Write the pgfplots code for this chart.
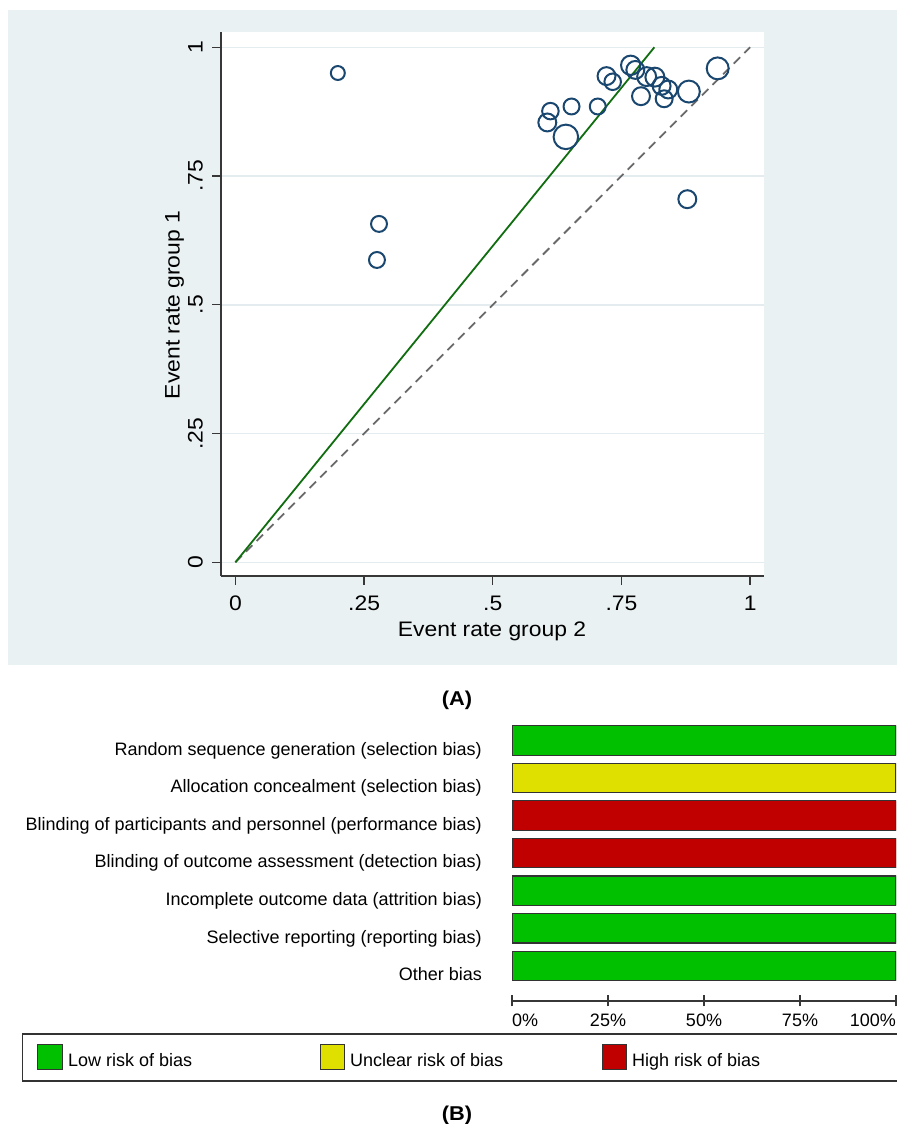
\documentclass[border=0pt]{standalone}
\usepackage{fontspec}
\setmainfont{Liberation Sans}
\newfontfamily\statafont[FakeStretch=1.09]{Liberation Sans}
\usepackage{pgfplots}
\pgfplotsset{compat=1.18}
\usepackage{pgfplotstable}

\definecolor{bluishgray}{RGB}{233,241,243}
\definecolor{gridgray}{RGB}{228,236,239}
\definecolor{statanavy}{RGB}{26,71,111}
\definecolor{fitgreen}{RGB}{16,110,16}
\definecolor{refgray}{RGB}{105,105,105}
\definecolor{axisgray}{RGB}{55,55,55}
\definecolor{lowrisk}{RGB}{0,192,0}
\definecolor{unclear}{RGB}{224,224,0}
\definecolor{highrisk}{RGB}{192,0,0}

% event rates of the two groups per study; r = marker radius in pt (study weight)
\pgfplotstableread{
x     y     r
0.199 0.950 7.0
0.279 0.657 8.0
0.275 0.587 8.0
0.878 0.705 9.0
0.606 0.854 9.0
0.612 0.876 8.3
0.642 0.826 12.3
0.653 0.885 8.0
0.704 0.885 8.0
0.721 0.944 9.0
0.733 0.933 8.3
0.768 0.965 9.7
0.777 0.956 9.0
0.788 0.905 9.0
0.799 0.943 9.5
0.815 0.942 9.5
0.828 0.925 9.0
0.841 0.918 9.0
0.833 0.900 8.5
0.881 0.914 11.0
0.937 0.959 11.0
}\eventrates

\begin{document}
\begin{tikzpicture}[x=1bp,y=1bp]
\useasboundingbox (0,0) rectangle (897,1124);
\fill[bluishgray] (8,459) rectangle (897,1114);

% ---------- (A) L'Abbe plot ----------
\begin{axis}[
  at={(221bp,548bp)}, anchor=south west,
  scale only axis, width=543bp, height=543.5bp,
  xmin=-0.028, xmax=1.027, ymin=-0.0266, ymax=1.0287,
  axis x line*=bottom, axis y line*=left,
  axis line style={axisgray, line width=1.5bp},
  axis background/.style={fill=white},
  xtick={0,0.25,0.5,0.75,1}, xticklabels={0,.25,.5,.75,1},
  ytick={0,0.25,0.5,0.75,1}, yticklabels={0,.25,.5,.75,1},
  tick align=outside, major tick length=9bp,
  tick style={axisgray, line width=1.3bp},
  ymajorgrids, grid style={gridgray, line width=1.5bp},
  ticklabel style={font=\statafont\fontsize{21bp}{25bp}\selectfont, inner sep=0pt},
  xticklabel style={anchor=base},
  xticklabel shift=25.5bp,
  yticklabel style={rotate=90, anchor=base},
  yticklabel shift=9.5bp,
]
\addplot[scatter, only marks, mark=o, draw=statanavy, line width=2bp,
  mark options={draw=statanavy, line width=2bp, fill=none},
  scatter src=explicit,
  scatter/use mapped color={draw=statanavy, fill=none},
  visualization depends on={\thisrow{r} \as \markrad},
  scatter/@pre marker code/.append style={/tikz/mark size=\markrad, /tikz/line width=2bp}]
  table[x=x, y=y, meta=r] {\eventrates};
\addplot[refgray, line width=1.8bp, dash pattern=on 9bp off 6bp] coordinates {(0,0) (1,1)};
\addplot[fitgreen, line width=1.8bp] coordinates {(0,0) (0.814,1)};
\end{axis}
\node[font=\statafont\fontsize{21bp}{25bp}\selectfont, anchor=base] at (492,487) {Event rate group 2};
\node[font=\statafont\fontsize{21bp}{25bp}\selectfont, anchor=base, rotate=90] at (179.5,819) {Event rate group 1};
\node[font=\statafont\fontsize{20bp}{24bp}\selectfont\bfseries] at (457,424) {(A)};

% ---------- (B) risk of bias summary ----------
\begin{axis}[
  at={(512bp,123bp)}, anchor=south west,
  scale only axis, width=384bp, height=283.2bp,
  xmin=0, xmax=100, ymin=0.067, ymax=7.6,
  axis x line*=bottom, axis y line*=left,
  y axis line style={draw=none}, ytick style={draw=none},
  x axis line style={axisgray, line width=1.5bp},
  xtick style={axisgray, line width=1.3bp},
  tick align=center, major tick length=11bp,
  xbar, bar width=29.5bp, bar shift=0pt,
  xtick={0,25,50,75,100},
  xticklabels={\rlap{0\%},25\%,50\%,75\%,\llap{100\%}},
  ytick={1,2,3,4,5,6,7},
  yticklabels={Other bias,
    Selective reporting (reporting bias),
    Incomplete outcome data (attrition bias),
    Blinding of outcome assessment (detection bias),
    Blinding of participants and personnel (performance bias),
    Allocation concealment (selection bias),
    Random sequence generation (selection bias)},
  ticklabel style={font=\fontsize{18bp}{22bp}\selectfont, inner sep=0pt},
  xticklabel style={anchor=base},
  xticklabel shift=20bp,
  yticklabel style={anchor=base east, yshift=-14.7bp},
  yticklabel shift=19bp,
]
\addplot[xbar, fill=lowrisk, draw=black!80, line width=1.2bp]
  coordinates {(100,7) (100,3) (100,2) (100,1)};
\addplot[xbar, fill=unclear, draw=black!80, line width=1.2bp]
  coordinates {(100,6)};
\addplot[xbar, fill=highrisk, draw=black!80, line width=1.2bp]
  coordinates {(100,5) (100,4)};
\end{axis}

% legend
\draw[black!80, line width=1.5bp] (22.7,43) rectangle (899,90);
\filldraw[fill=lowrisk, draw=black!80, line width=1bp] (37.7,54) rectangle (62.3,79);
\filldraw[fill=unclear, draw=black!80, line width=1bp] (320.4,54) rectangle (344.4,79);
\filldraw[fill=highrisk, draw=black!80, line width=1bp] (602.4,54) rectangle (626.4,79);
\begin{scope}[every node/.style={font=\fontsize{18bp}{22bp}\selectfont, anchor=base west, inner sep=0pt}]
\node at (68,57) {Low risk of bias};
\node at (350,57) {Unclear risk of bias};
\node at (632,57) {High risk of bias};
\end{scope}
\node[font=\statafont\fontsize{20bp}{24bp}\selectfont\bfseries] at (457,9) {(B)};
\end{tikzpicture}
\end{document}
